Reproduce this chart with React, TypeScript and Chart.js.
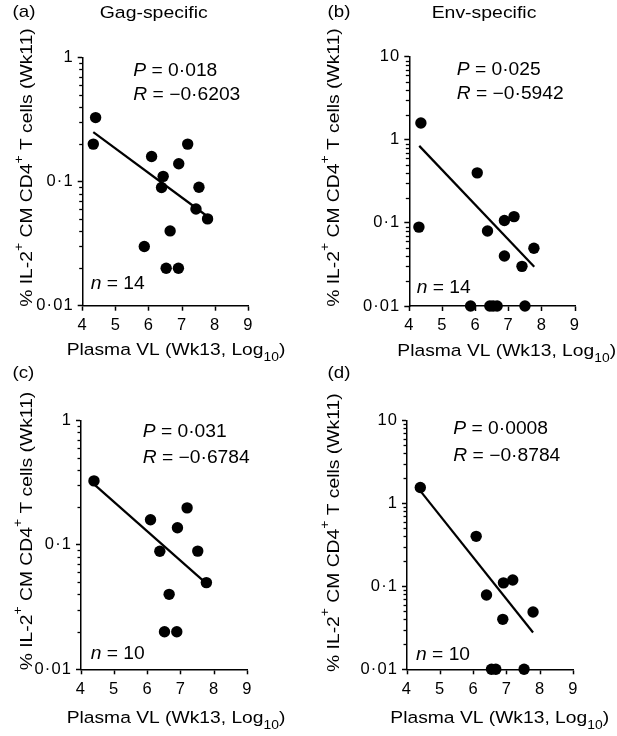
import React, { useEffect, useRef } from 'react';
import { Chart, registerables } from 'chart.js';

Chart.register(...registerables);

// ---------- data ----------
// (a) Gag-specific, all animals (n = 14)
const gagAllVL = [4.39, 4.32, 6.08, 6.43, 6.38, 6.9, 7.17, 7.51, 7.42, 7.77, 5.86, 6.64, 6.52, 6.89];
const gagAllCM = [0.327, 0.2, 0.159, 0.11, 0.0895, 0.139, 0.2, 0.09, 0.06, 0.05, 0.03, 0.04, 0.02, 0.02];
const gagAllFitVL = [4.32, 7.74];
const gagAllFitCM = [0.25, 0.053];

// (b) Env-specific, all animals (n = 14)
const envAllVL = [4.35, 4.29, 6.05, 6.36, 6.87, 7.16, 6.87, 7.4, 7.76, 5.85, 6.43, 6.53, 6.65, 7.49];
const envAllCM = [1.59, 0.089, 0.4, 0.08, 0.107, 0.119, 0.04, 0.03, 0.0496, 0.01, 0.01, 0.01, 0.01, 0.01];
const envAllFitVL = [4.3, 7.77];
const envAllFitCM = [0.845, 0.0297];

// (c) Gag-specific, subset (n = 10)
const gagSubVL = [4.39, 6.09, 6.37, 6.9, 7.19, 7.51, 7.77, 6.65, 6.51, 6.88];
const gagSubCM = [0.326, 0.159, 0.0887, 0.137, 0.198, 0.089, 0.0497, 0.04, 0.02, 0.02];
const gagSubFitVL = [4.37, 7.74];
const gagSubFitCM = [0.31, 0.0497];

// (d) Env-specific, subset (n = 10)
const envSubVL = [4.4, 6.08, 6.39, 6.9, 7.18, 6.88, 7.79, 6.54, 6.67, 7.52];
const envSubCM = [1.55, 0.4, 0.0785, 0.11, 0.119, 0.04, 0.049, 0.01, 0.01, 0.01];
const envSubFitVL = [4.4, 7.79];
const envSubFitCM = [1.41, 0.0278];

const xTickValues = [4, 5, 6, 7, 8, 9];
const yTicksGag = [0.01, 0.1, 1];
const yLabelsGag = ['0·01', '0·1', '1'];
const yTicksEnv = [0.01, 0.1, 1, 10];
const yLabelsEnv = ['0·01', '0·1', '1', '10'];

const statsA = ['0·018', '−0·6203', '14'];
const statsB = ['0·025', '−0·5942', '14'];
const statsC = ['0·031', '−0·6784', '10'];
const statsD = ['0·0008', '−0·8784', '10'];

// ---------- styling ----------
const FONT = '"Liberation Sans", Arial, Helvetica, sans-serif';
const TICK_SPACING = '1.1px';

type Seg = { t: string; it?: boolean; sup?: boolean; sub?: boolean };

const yTitleSegs: Seg[] = [
  { t: '% IL-2' },
  { t: '+', sup: true },
  { t: ' CM CD4' },
  { t: '+', sup: true },
  { t: ' T cells (Wk11)' },
];
const xTitleSegs: Seg[] = [{ t: 'Plasma VL (Wk13, Log' }, { t: '10', sub: true }, { t: ')' }];

function segFont(s: Seg, size: number) {
  const fs = s.sup || s.sub ? size * 0.72 : size;
  return `${s.it ? 'italic ' : ''}${fs}px ${FONT}`;
}

// draws text with super/subscripts, horizontally widened by sx (along reading direction)
function drawRich(
  ctx: CanvasRenderingContext2D,
  segs: Seg[],
  x: number,
  y: number,
  size: number,
  align: 'left' | 'center',
  sx: number
) {
  ctx.save();
  (ctx as any).letterSpacing = '0px';
  ctx.textBaseline = 'alphabetic';
  ctx.textAlign = 'left';
  ctx.fillStyle = '#000';
  const widths = segs.map((s) => {
    ctx.font = segFont(s, size);
    return ctx.measureText(s.t).width;
  });
  const total = widths.reduce((a, b) => a + b, 0);
  ctx.translate(align === 'center' ? x - (total * sx) / 2 : x, y);
  ctx.scale(sx, 1);
  let cx = 0;
  segs.forEach((s, i) => {
    ctx.font = segFont(s, size);
    const dy = s.sup ? -size * 0.58 : s.sub ? size * 0.36 : 0;
    ctx.fillText(s.t, cx, dy);
    cx += widths[i];
  });
  ctx.restore();
}

type Spec = {
  key: string;
  x: number; y: number; w: number; h: number;
  area: { l: number; r: number; t: number; b: number };
  vl: number[]; cm: number[]; fitVL: number[]; fitCM: number[];
  yMax: number; yTicks: number[]; yLabels: string[];
  label: string; labelPos: [number, number];
  title?: string; titlePos?: [number, number];
  stats: string[]; pPos: [number, number]; rPos: [number, number]; nPos: [number, number];
  yTitleX: number; yTitleY: number;
  xTitlePos: [number, number];
};

const panels: Spec[] = [
  {
    key: 'a', x: 0, y: 0, w: 305, h: 366,
    area: { l: 82.7, r: 248.3, t: 57.3, b: 305.7 },
    vl: gagAllVL, cm: gagAllCM, fitVL: gagAllFitVL, fitCM: gagAllFitCM,
    yMax: 1, yTicks: yTicksGag, yLabels: yLabelsGag,
    label: '(a)', labelPos: [12.5, 17], title: 'Gag-specific', titlePos: [153.7, 18.3],
    stats: statsA, pPos: [133.3, 76], rPos: [133.3, 100], nPos: [90.7, 289.3],
    yTitleX: 32.3, yTitleY: 167.5, xTitlePos: [176, 354.5],
  },
  {
    key: 'b', x: 305, y: 0, w: 312, h: 366,
    area: { l: 104.3, r: 270, t: 56.7, b: 306 },
    vl: envAllVL, cm: envAllCM, fitVL: envAllFitVL, fitCM: envAllFitCM,
    yMax: 10, yTicks: yTicksEnv, yLabels: yLabelsEnv,
    label: '(b)', labelPos: [22.5, 17], title: 'Env-specific', titlePos: [179, 18.3],
    stats: statsB, pPos: [151.7, 75], rPos: [151.7, 99.3], nPos: [111.7, 293.3],
    yTitleX: 34, yTitleY: 167.5, xTitlePos: [201.7, 355.5],
  },
  {
    key: 'c', x: 0, y: 366, w: 305, h: 370,
    area: { l: 81, r: 247.3, t: 54.3, b: 303.3 },
    vl: gagSubVL, cm: gagSubCM, fitVL: gagSubFitVL, fitCM: gagSubFitCM,
    yMax: 1, yTicks: yTicksGag, yLabels: yLabelsGag,
    label: '(c)', labelPos: [12.5, 12],
    stats: statsC, pPos: [142.7, 70.7], rPos: [142.7, 96.7], nPos: [90.7, 292.7],
    yTitleX: 31.5, yTitleY: 165, xTitlePos: [176, 357.3],
  },
  {
    key: 'd', x: 305, y: 366, w: 312, h: 370,
    area: { l: 102, r: 268.3, t: 54.3, b: 303.3 },
    vl: envSubVL, cm: envSubCM, fitVL: envSubFitVL, fitCM: envSubFitCM,
    yMax: 10, yTicks: yTicksEnv, yLabels: yLabelsEnv,
    label: '(d)', labelPos: [22.5, 12],
    stats: statsD, pPos: [148.3, 68.3], rPos: [148.3, 95], nPos: [111, 294.3],
    yTitleX: 34, yTitleY: 166.7, xTitlePos: [194.7, 356.5],
  },
];

function makeAnnotate(spec: Spec) {
  return {
    id: 'annotate_' + spec.key,
    beforeUpdate(chart: any) {
      chart.ctx.letterSpacing = TICK_SPACING;
    },
    beforeDraw(chart: any) {
      const ctx = chart.ctx as CanvasRenderingContext2D;
      (ctx as any).letterSpacing = TICK_SPACING;
      ctx.save();
      ctx.fillStyle = '#fff';
      ctx.fillRect(0, 0, chart.width, chart.height);
      ctx.restore();
    },
    afterDraw(chart: any) {
      const ctx = chart.ctx as CanvasRenderingContext2D;
      const yScale = chart.scales.y;
      const left = chart.chartArea.left;
      // minor log ticks
      ctx.save();
      ctx.strokeStyle = '#000';
      ctx.lineWidth = 1.3;
      for (let d = 0.01; d < spec.yMax * 0.99; d *= 10) {
        for (let k = 2; k <= 9; k++) {
          const py = Math.round(yScale.getPixelForValue(k * d)) + 0.5;
          ctx.beginPath();
          ctx.moveTo(left - 3.5, py);
          ctx.lineTo(left, py);
          ctx.stroke();
        }
      }
      ctx.restore();

      // panel label and title
      drawRich(ctx, [{ t: spec.label }], spec.labelPos[0], spec.labelPos[1], 17, 'left', 1.1);
      if (spec.title && spec.titlePos) {
        drawRich(ctx, [{ t: spec.title }], spec.titlePos[0], spec.titlePos[1], 17.2, 'center', 1.13);
      }
      // statistics
      drawRich(ctx, [{ t: 'P', it: true }, { t: ' = ' + spec.stats[0] }], spec.pPos[0], spec.pPos[1], 17.5, 'left', 1.1);
      drawRich(ctx, [{ t: 'R', it: true }, { t: ' = ' + spec.stats[1] }], spec.rPos[0], spec.rPos[1], 17.5, 'left', 1.1);
      drawRich(ctx, [{ t: 'n', it: true }, { t: ' = ' + spec.stats[2] }], spec.nPos[0], spec.nPos[1], 17.5, 'left', 1.1);
      // axis titles
      drawRich(ctx, xTitleSegs, spec.xTitlePos[0], spec.xTitlePos[1], 17.2, 'center', 1.12);
      ctx.save();
      ctx.translate(spec.yTitleX, spec.yTitleY);
      ctx.rotate(-Math.PI / 2);
      drawRich(ctx, yTitleSegs, 0, 0, 16.8, 'center', 1.15);
      ctx.restore();
    },
  };
}

function buildConfig(spec: Spec): any {
  const pts = spec.vl.map((x, i) => ({ x, y: spec.cm[i] }));
  const fit = spec.fitVL.map((x, i) => ({ x, y: spec.fitCM[i] }));
  const gridOpts = {
    display: true,
    drawOnChartArea: false,
    drawTicks: true,
    tickLength: 5,
    tickWidth: 1.5,
    tickColor: '#000',
  };
  const borderOpts = { display: true, color: '#000', width: 1.5 };
  return {
    type: 'scatter',
    data: {
      datasets: [
        {
          type: 'scatter',
          data: pts,
          pointRadius: 5.7,
          pointHoverRadius: 5.7,
          backgroundColor: '#000',
          borderColor: '#000',
          borderWidth: 0,
          clip: false,
          order: 0,
        },
        {
          type: 'line',
          data: fit,
          borderColor: '#000',
          borderWidth: 2.2,
          pointRadius: 0,
          fill: false,
          showLine: true,
          clip: false,
          order: 1,
        },
      ],
    },
    options: {
      responsive: false,
      animation: false,
      devicePixelRatio: 1,
      events: [],
      layout: { padding: { left: 0, top: spec.area.t, right: spec.w - spec.area.r, bottom: 0 } },
      plugins: {
        legend: { display: false },
        tooltip: { enabled: false },
        title: { display: false },
      },
      scales: {
        x: {
          type: 'linear',
          min: 4,
          max: 9,
          afterBuildTicks: (s: any) => {
            s.ticks = xTickValues.map((v) => ({ value: v }));
          },
          afterFit: (s: any) => {
            s.height = spec.h - spec.area.b;
          },
          ticks: {
            font: { size: 16.5, family: FONT },
            color: '#000',
            padding: 5,
            maxRotation: 0,
            autoSkip: false,
            callback: (v: any) => String(v),
          },
          grid: gridOpts,
          border: borderOpts,
        },
        y: {
          type: 'logarithmic',
          min: 0.01,
          max: spec.yMax,
          afterBuildTicks: (s: any) => {
            s.ticks = spec.yTicks.map((v) => ({ value: v, major: true }));
          },
          afterFit: (s: any) => {
            s.width = spec.area.l;
          },
          ticks: {
            font: { size: 16.5, family: FONT },
            color: '#000',
            padding: 4,
            autoSkip: false,
            callback: (v: any) => {
              const i = spec.yTicks.findIndex((t) => Math.abs(t - v) / t < 1e-6);
              return i >= 0 ? spec.yLabels[i] : '';
            },
          },
          grid: gridOpts,
          border: borderOpts,
        },
      },
    },
    plugins: [makeAnnotate(spec)],
  };
}

function Panel({ spec }: { spec: Spec }) {
  const ref = useRef<HTMLCanvasElement>(null);
  useEffect(() => {
    if (!ref.current) return;
    const chart = new Chart(ref.current, buildConfig(spec));
    return () => chart.destroy();
  }, [spec]);
  return (
    <canvas
      ref={ref}
      width={spec.w}
      height={spec.h}
      style={{ position: 'absolute', left: spec.x, top: spec.y, width: spec.w, height: spec.h, display: 'block' }}
    />
  );
}

export default function App() {
  return (
    <div style={{ position: 'absolute', left: 0, top: 0, width: 617, height: 736, background: '#fff', overflow: 'hidden' }}>
      {panels.map((p) => (
        <Panel key={p.key} spec={p} />
      ))}
    </div>
  );
}
